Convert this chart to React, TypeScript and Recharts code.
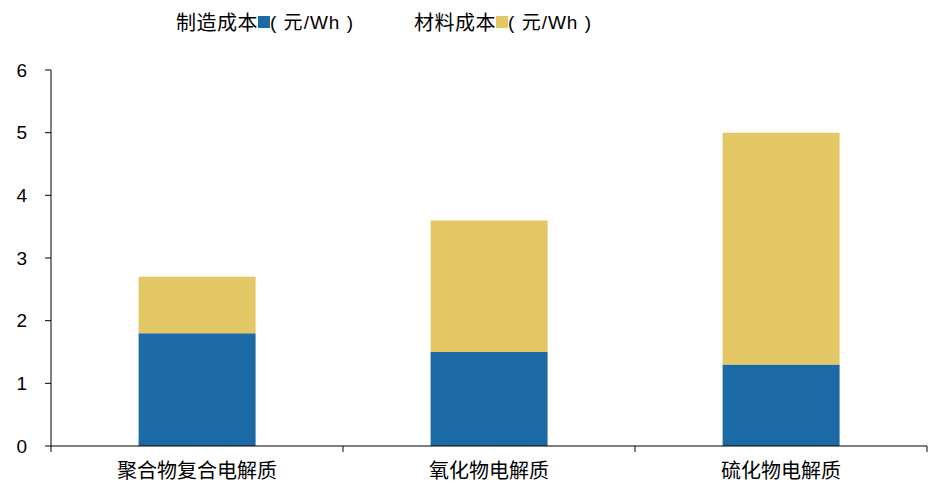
import { BarChart, Bar, XAxis, YAxis } from 'recharts';

const CATEGORIES = ['聚合物复合电解质', '氧化物电解质', '硫化物电解质'];
const MANUFACTURING = [1.8, 1.5, 1.3];
const MATERIAL = [0.9, 2.1, 3.7];
const Y_TICKS = [0, 1, 2, 3, 4, 5, 6];

const SERIES = [
  { key: 'manufacturing', label: '制造成本', color: '#1B6AA5' },
  { key: 'material', label: '材料成本', color: '#E3C765' },
];

const data = CATEGORIES.map((name, i) => ({
  name,
  manufacturing: MANUFACTURING[i],
  material: MATERIAL[i],
}));

const PLOT_LEFT = 51;
const PLOT_RIGHT = 927;
const BAND = (PLOT_RIGHT - PLOT_LEFT) / CATEGORIES.length;
const CJK = "'Noto Sans CJK SC', sans-serif";
const LATIN = "'Liberation Sans', Arial, sans-serif";

function CategoryTick(props: any) {
  const { x, y, payload, index } = props;
  return (
    <g>
      <line x1={x - BAND / 2} y1={y} x2={x - BAND / 2} y2={y + 6} stroke="#000" />
      {index === CATEGORIES.length - 1 && (
        <line x1={x + BAND / 2} y1={y} x2={x + BAND / 2} y2={y + 6} stroke="#000" />
      )}
      <text x={x} y={y + 32} textAnchor="middle" fill="#000" fontSize={20} fontFamily={CJK}>
        {payload.value}
      </text>
    </g>
  );
}

function TopLegend() {
  return (
    <div
      style={{
        position: 'absolute',
        top: 9,
        left: 0,
        display: 'flex',
        fontSize: 20,
        color: '#000',
        lineHeight: '24px',
      }}
    >
      {SERIES.map((s, i) => (
        <div key={s.key} style={{ display: 'flex', alignItems: 'center', marginLeft: i === 0 ? 176 : 60 }}>
          <span style={{ fontFamily: CJK, letterSpacing: 0.5 }}>{s.label}</span>
          <span style={{ display: 'inline-block', width: 12, height: 12, background: s.color }} />
          <span style={{ fontFamily: LATIN, fontSize: 19, whiteSpace: 'pre', letterSpacing: 1 }}>
            {'( '}
            <span style={{ fontFamily: CJK, fontSize: 19 }}>元</span>
            {'/Wh )'}
          </span>
        </div>
      ))}
    </div>
  );
}

export default function App() {
  return (
    <div style={{ position: 'absolute', left: 0, top: 0, width: 937, height: 500, background: '#fff' }}>
      <BarChart
        width={937}
        height={500}
        data={data}
        margin={{ top: 70, right: 937 - PLOT_RIGHT, bottom: 0, left: 0 }}
        barCategoryGap="30%"
      >
        <XAxis
          dataKey="name"
          height={54}
          tickLine={false}
          tickSize={0}
          tickMargin={0}
          axisLine={{ stroke: '#000' }}
          tick={<CategoryTick />}
          interval={0}
        />
        <YAxis
          width={PLOT_LEFT}
          domain={[0, 6]}
          ticks={Y_TICKS}
          interval={0}
          tickSize={6}
          tickMargin={18}
          axisLine={{ stroke: '#000' }}
          tickLine={{ stroke: '#000' }}
          tick={{ fill: '#000', fontSize: 19, fontFamily: LATIN }}
        />
        {SERIES.map((s) => (
          <Bar key={s.key} dataKey={s.key} stackId="a" fill={s.color} isAnimationActive={false} />
        ))}
      </BarChart>
      <TopLegend />
    </div>
  );
}
